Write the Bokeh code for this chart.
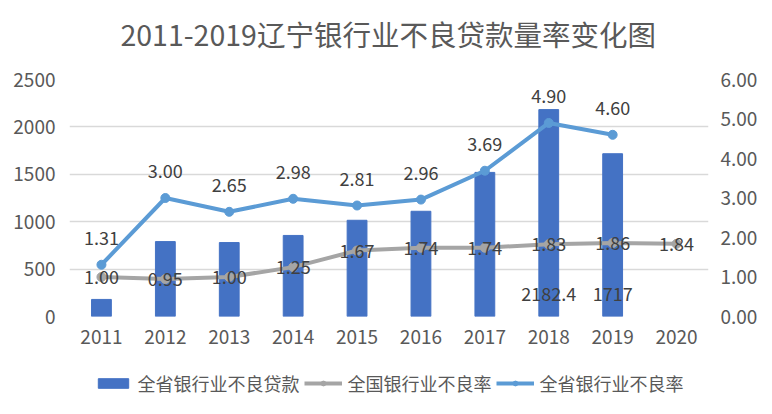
import math
from bokeh.plotting import figure
from bokeh.layouts import column
from bokeh.models import (ColumnDataSource, LinearAxis, Range1d, FactorRange, Legend,
                          LegendItem, FixedTicker, NumeralTickFormatter, Label, LabelSet)
from bokeh.core.properties import value
from bokeh.embed import file_html
from bokeh.resources import INLINE

nan = float("nan")
title_text = "2011-2019辽宁银行业不良贷款量率变化图"
years = ["2011", "2012", "2013", "2014", "2015", "2016", "2017", "2018", "2019", "2020"]
npl_amount = [180, 790, 780, 855, 1015, 1110, 1520, 2182.4, 1717, nan]
amount_labels = ["", "", "", "", "", "", "", "2182.4", "1717", ""]
national_rate = [1.00, 0.95, 1.00, 1.25, 1.67, 1.74, 1.74, 1.83, 1.86, 1.84]
province_rate = [1.31, 3.00, 2.65, 2.98, 2.81, 2.96, 3.69, 4.90, 4.60, nan]
left_ticks = [0, 500, 1000, 1500, 2000, 2500]
right_ticks = [0, 1, 2, 3, 4, 5, 6]
series_names = ["全省银行业不良贷款", "全国银行业不良率", "全省银行业不良率"]

FONT = "Noto Sans CJK SC"
TXT = "#595959"
LBL = "#404040"
C_BAR, C_NAT, C_PROV = "#4472C4", "#A5A5A5", "#5B9BD5"
W = 772


def blank_strip(height):
    f = figure(width=W, height=height, output_backend="svg", toolbar_location=None,
               x_range=Range1d(0, W), y_range=Range1d(0, height), min_border=0,
               x_axis_location=None, y_axis_location=None)
    f.outline_line_color = None
    f.xgrid.grid_line_color = None
    f.ygrid.grid_line_color = None
    return f


# ---- title strip ----
TH = 60
tf = blank_strip(TH)
tf.add_layout(Label(x=385, y=TH - 33, text=title_text, text_align="center",
                    text_baseline="middle", text_font=FONT, text_font_size="28.5px",
                    text_color=TXT))

# ---- main chart ----
src = ColumnDataSource(dict(
    x=years,
    amt=npl_amount,
    amt_lbl=amount_labels,
    zero=[0] * len(years),
    nat=national_rate,
    nat_lbl=[f"{v:.2f}" for v in national_rate],
    prov=province_rate,
    prov_lbl=["" if math.isnan(v) else f"{v:.2f}" for v in province_rate],
))

p = figure(width=W, height=292, output_backend="svg", toolbar_location=None,
           x_range=FactorRange(factors=years), y_range=Range1d(0, 2500),
           min_border_left=69, min_border_right=64, min_border_top=19, min_border_bottom=36)
p.extra_y_ranges = {"rate": Range1d(0, 6)}
p.outline_line_color = None

p.vbar(x="x", top="amt", width=0.31, source=src, color=C_BAR)
p.line(x="x", y="nat", source=src, color=C_NAT, line_width=4, y_range_name="rate")
p.scatter(x="x", y="nat", source=src, color=C_NAT, size=9, y_range_name="rate")
p.line(x="x", y="prov", source=src, color=C_PROV, line_width=4, y_range_name="rate")
p.scatter(x="x", y="prov", source=src, color=C_PROV, size=9, y_range_name="rate")

p.add_layout(LabelSet(x="x", y="zero", text="amt_lbl", source=src, y_offset=23,
                      text_align="center", text_baseline="middle", text_font=value(FONT),
                      text_font_size="18px", text_color=LBL))
p.add_layout(LabelSet(x="x", y="nat", text="nat_lbl", source=src, y_range_name="rate",
                      text_align="center", text_baseline="middle", text_font=value(FONT),
                      text_font_size="18px", text_color=LBL))
p.add_layout(LabelSet(x="x", y="prov", text="prov_lbl", source=src, y_range_name="rate",
                      y_offset=27, text_align="center", text_baseline="middle",
                      text_font=value(FONT), text_font_size="18px", text_color=LBL))

p.yaxis.ticker = FixedTicker(ticks=left_ticks)
ra = LinearAxis(y_range_name="rate", ticker=FixedTicker(ticks=right_ticks),
                formatter=NumeralTickFormatter(format="0.00"))
p.add_layout(ra, "right")
for ax in [p.yaxis[0], ra, p.xaxis[0]]:
    ax.axis_line_color = None
    ax.major_tick_line_color = None
    ax.minor_tick_line_color = None
    ax.major_tick_out = 0
    ax.major_tick_in = 0
    ax.minor_tick_out = 0
    ax.major_label_text_font = FONT
    ax.major_label_text_font_size = "19px"
    ax.major_label_text_color = TXT
p.yaxis[0].major_label_standoff = 14
ra.major_label_standoff = 12
p.xaxis[0].major_label_standoff = 13
p.xgrid.grid_line_color = None
p.ygrid.grid_line_color = "#D9D9D9"
p.ygrid.grid_line_width = 1.5

# ---- legend strip (own figure so the legend is not clipped by the chart frame) ----
lg = blank_strip(62)
# proxy glyphs far outside the strip's visible range, only used to draw legend swatches
off = ColumnDataSource(dict(x=[-100000, -99990], y=[-100000, -100000],
                            b=[-100010, -100010]))
r_bar = lg.vbar(x="x", top="y", bottom="b", width=1, source=off, color=C_BAR)
r_nl = lg.line(x="x", y="y", source=off, color=C_NAT, line_width=4)
r_nc = lg.scatter(x="x", y="y", source=off, color=C_NAT, size=9)
r_pl = lg.line(x="x", y="y", source=off, color=C_PROV, line_width=4)
r_pc = lg.scatter(x="x", y="y", source=off, color=C_PROV, size=9)

legend = Legend(items=[
    LegendItem(label=series_names[0], renderers=[r_bar]),
    LegendItem(label=series_names[1], renderers=[r_nl, r_nc]),
    LegendItem(label=series_names[2], renderers=[r_pl, r_pc]),
], orientation="horizontal", location="center", label_text_font=FONT,
   label_text_font_size="18px", label_text_color=TXT, glyph_width=38, glyph_height=12,
   label_standoff=6, spacing=4, border_line_color=None, background_fill_alpha=0,
   padding=0, margin=0)
lg.add_layout(legend, "center")

layout = column(tf, p, lg, spacing=0)
open("out.html", "w").write(file_html(layout, INLINE))
